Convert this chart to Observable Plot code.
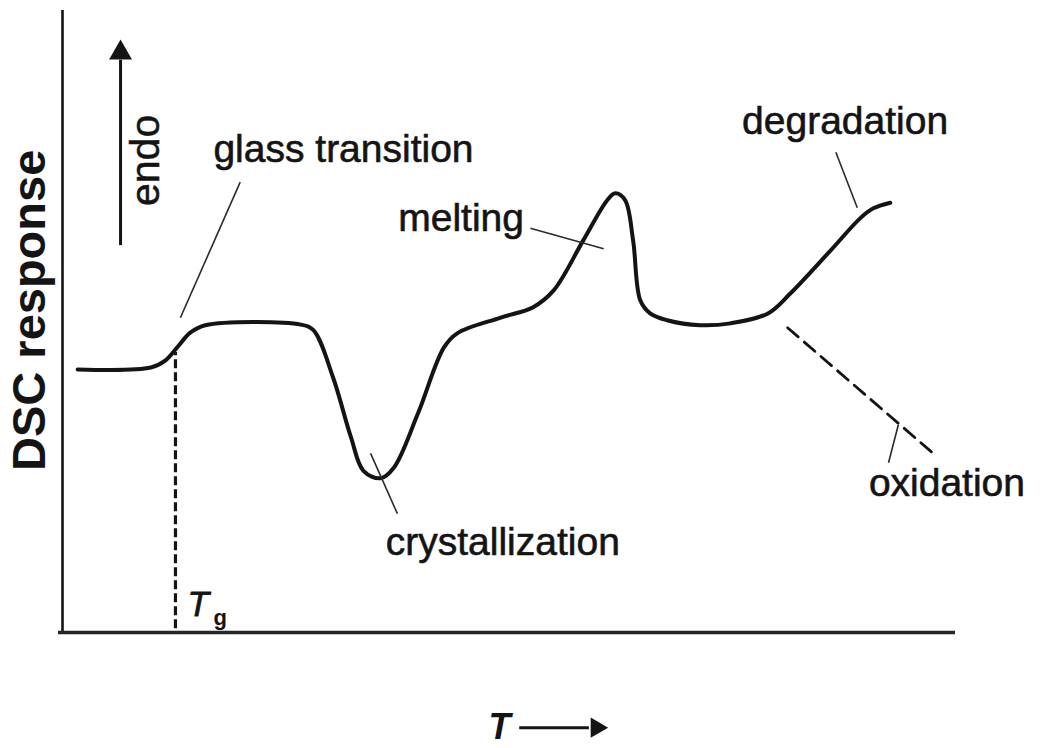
<!DOCTYPE html>
<html>
<head>
<meta charset="utf-8">
<script src="https://cdn.jsdelivr.net/npm/d3@7"></script>
<script src="https://cdn.jsdelivr.net/npm/@observablehq/plot@0.6"></script>
<style>
  html, body { margin: 0; padding: 0; background: #ffffff; }
  svg { display: block; }
</style>
</head>
<body>
<div id="chart"></div>
<script>
// ---- DSC curve (schematic), temperature (arbitrary units) vs response ----
const curveT = [1.7, 9.9, 11.5, 13.0, 14.3, 16.0, 26.7, 28.1, 30.3, 32.3, 33.7, 35.6, 37.1, 39.8, 42.7, 44.2, 49.0, 52.7, 55.0, 58.3, 61.0, 61.9, 63.0, 63.9, 64.7, 65.8, 67.7, 71.4, 74.8, 79.0, 81.5, 86.0, 89.4, 90.8, 92.7];
const curveR = [42.3, 42.6, 43.7, 46.1, 48.2, 49.4, 49.5, 48.6, 41.0, 31.4, 26.0, 24.8, 26.5, 35.2, 45.8, 48.1, 50.6, 52.3, 55.0, 63.0, 69.5, 70.6, 69.5, 63.0, 53.4, 51.3, 50.2, 49.4, 49.7, 51.3, 54.5, 61.4, 66.7, 68.2, 69.1];

// oxidation branch (dashed)
const oxidationT = [81.2, 97.5];
const oxidationR = [49.0, 28.8];

// glass transition temperature marker
const glassT = 12.65;
const glassTop = 45.0;

// annotation labels
const labelText = ["glass transition", "melting", "crystallization", "degradation", "oxidation"];
const labelT    = [16.9, 37.6, 36.2, 76.1, 90.3];
const labelR    = [77.6, 66.6, 14.4, 82.2, 24.0];

// leader lines [t1, r1, t2, r2]
const leaderT1 = [19.9, 52.4, 34.5, 86.6, 92.5];
const leaderR1 = [72.4, 65.0, 28.8, 77.2, 27.3];
const leaderT2 = [13.2, 60.6, 37.5, 89.0, 93.6];
const leaderR2 = [50.6, 61.7, 19.1, 68.3, 33.4];

const curve = curveT.map((t, i) => ({t, r: curveR[i]}));
const oxidation = oxidationT.map((t, i) => ({t, r: oxidationR[i]}));
const labels = labelText.map((s, i) => ({s, t: labelT[i], r: labelR[i]}));
const leaders = leaderT1.map((t, i) => ({t1: t, r1: leaderR1[i], t2: leaderT2[i], r2: leaderR2[i]}));

const ink = "#141414";
const font = "'Liberation Sans', Arial, Helvetica, sans-serif";

const chart = Plot.plot({
  width: 1041,
  height: 748,
  marginLeft: 62,
  marginRight: 86,
  marginTop: 10,
  marginBottom: 116,
  style: {background: "#ffffff", fontFamily: font, overflow: "visible"},
  x: {domain: [0, 100], axis: null},
  y: {domain: [0, 100], axis: null},
  marks: [
    // axes
    Plot.ruleX([0], {y1: 0, y2: 100, stroke: ink, strokeWidth: 2.6}),
    Plot.ruleY([0], {x1: -0.45, x2: 100, stroke: "#262626", strokeWidth: 3.6}),
    // Tg dashed line
    Plot.ruleX([glassT], {y1: 0.6, y2: glassTop, stroke: ink, strokeWidth: 3.2, strokeDasharray: "9,4"}),
    // oxidation dashed
    Plot.line(oxidation, {x: "t", y: "r", stroke: ink, strokeWidth: 2.8, strokeDasharray: "14,8"}),
    // main curve
    Plot.line(curve, {x: "t", y: "r", curve: "catmull-rom", stroke: ink, strokeWidth: 4, strokeLinejoin: "round"}),
    // leader lines
    Plot.link(leaders, {x1: "t1", y1: "r1", x2: "t2", y2: "r2", stroke: "#2a2a2a", strokeWidth: 1.6}),
    // labels
    Plot.text(labels, {x: "t", y: "r", text: "s", textAnchor: "start", fontSize: 39, fill: ink, stroke: ink, strokeWidth: 0.6}),
    // endo arrow
    Plot.ruleX([6.5], {y1: 62.2, y2: 92.0, stroke: ink, strokeWidth: 3}),
    Plot.dot([{t: 6.5, r: 93.2}], {x: "t", y: "r", symbol: "triangle", r: 8.5, fill: ink, stroke: null}),
    Plot.text(["endo"], {x: 9.3, y: 75.9, rotate: -90, fontSize: 41, fill: ink, stroke: ink, strokeWidth: 0.5}),
    // y title
    Plot.text(["DSC response"], {x: -3.6, y: 51.8, rotate: -90, fontSize: 47, fontWeight: "bold", fill: ink}),
    // Tg label
    Plot.text(["T"], {x: 14.0, y: 4.4, textAnchor: "start", fontSize: 35, fontStyle: "italic", fill: ink, stroke: ink, strokeWidth: 0.8}),
    Plot.text(["g"], {x: 16.9, y: 2.3, textAnchor: "start", fontSize: 22, fontWeight: "bold", fill: ink}),
    // x title with arrow
    Plot.text(["T"], {x: 47.7, y: -15.2, textAnchor: "start", fontSize: 36, fontStyle: "italic", fontWeight: "bold", fill: ink}),
    Plot.ruleY([-15.3], {x1: 51.2, x2: 59.0, stroke: ink, strokeWidth: 3}),
    Plot.dot([{t: 59.8, r: -15.3}], {x: "t", y: "r", symbol: "triangle", rotate: 90, r: 7.5, fill: ink, stroke: null})
  ]
});

document.getElementById("chart").appendChild(chart);
</script>
</body>
</html>
